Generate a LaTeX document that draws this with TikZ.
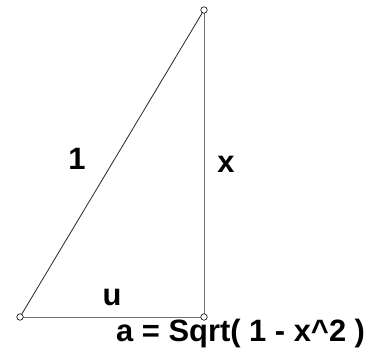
\documentclass[tikz,border=0pt]{standalone}
\usepackage{fontspec}
\setmainfont{Liberation Sans}
\begin{document}
\begin{tikzpicture}[x=1bp,y=-1bp,
  lbl/.style={font=\fontsize{31}{35}\selectfont\bfseries, inner sep=0pt},
  vtx/.style={circle, draw=black, fill=white, line width=0.6bp, minimum size=6.5bp, inner sep=0pt},
  side/.style={line width=0.8bp}]
\useasboundingbox (0,0) rectangle (372,362);
\coordinate (A) at (20,317);
\coordinate (B) at (204,317);
\coordinate (C) at (204,10);
\draw[side, draw=black!85] (A) -- (C);
\draw[side, draw=black!55] (C) -- (B);
\draw[side, draw=black!55] (A) -- (B);
\node[vtx] (a) at (A) {};
\node[vtx] (b) at (B) {};
\node[vtx] (c) at (C) {};
\node[lbl] (one) at (77,159) {1};
\node[lbl] (xl) at (226,164) {x};
\node[lbl] (ul) at (112,297) {u};
\node[lbl, anchor=base west] (eq) at (116,341) {a = Sqrt( 1 - x\^{}2 )};
\end{tikzpicture}
\end{document}
